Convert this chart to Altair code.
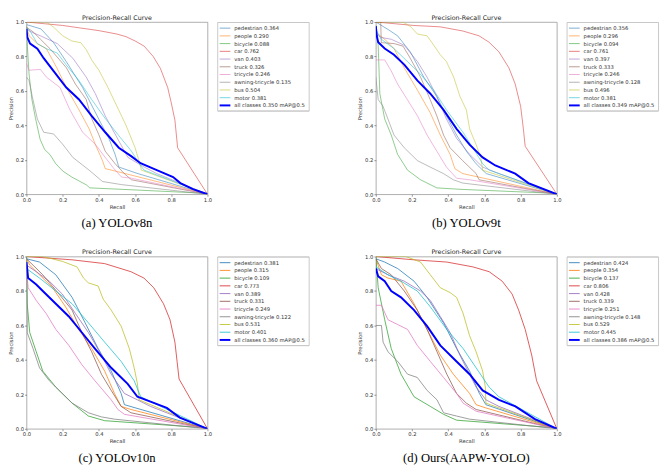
import altair as alt
import pandas as pd

CLASSES = ["pedestrian", "people", "bicycle", "car", "van", "truck", "tricycle",
           "awning-tricycle", "bus", "motor", "all classes"]
COLORS = ["#1f77b4", "#ff7f0e", "#2ca02c", "#d62728", "#9467bd", "#8c564b",
          "#e377c2", "#7f7f7f", "#bcbd22", "#17becf", "#0000ff"]
TITLE = "Precision-Recall Curve"
CAPTIONS = ["(a) YOLOv8n", "(b) YOLOv9t", "(c) YOLOv10n", "(d) Ours(AAPW-YOLO)"]
TICKS = [0.0, 0.2, 0.4, 0.6, 0.8, 1.0]

AP_A = [0.364, 0.290, 0.088, 0.762, 0.403, 0.326, 0.246, 0.135, 0.504, 0.381, 0.350]
AP_B = [0.356, 0.296, 0.094, 0.761, 0.397, 0.333, 0.246, 0.128, 0.496, 0.381, 0.349]
AP_C = [0.381, 0.315, 0.109, 0.773, 0.389, 0.331, 0.249, 0.122, 0.531, 0.401, 0.360]
AP_D = [0.424, 0.354, 0.137, 0.806, 0.428, 0.339, 0.251, 0.148, 0.529, 0.445, 0.386]

# (recall, precision) per class
CURVES_A = {
    "pedestrian": ([0, 0.08, 0.15, 0.22, 0.31, 0.40, 0.455, 0.49, 0.51, 0.615, 1.0],
                   [0.985, 0.96, 0.88, 0.77, 0.62, 0.435, 0.325, 0.23, 0.158, 0.12, 0.0]),
    "people": ([0, 0.015, 0.06, 0.11, 0.167, 0.22, 0.29, 0.346, 0.38, 0.42, 0.435, 0.47, 1.0],
               [0.97, 0.92, 0.874, 0.845, 0.735, 0.62, 0.49, 0.38, 0.29, 0.195, 0.149, 0.14, 0.0]),
    "bicycle": ([0, 0.005, 0.014, 0.03, 0.05, 0.075, 0.1, 0.13, 0.16, 0.2, 0.25, 0.33, 0.35, 0.5, 1.0],
                [0.98, 0.86, 0.70, 0.55, 0.44, 0.32, 0.26, 0.23, 0.18, 0.135, 0.10, 0.055, 0.037, 0.03, 0.005]),
    "car": ([0, 0.1, 0.2, 0.3, 0.4, 0.5, 0.55, 0.6, 0.65, 0.7, 0.74, 0.78, 0.8, 0.82, 0.835, 1.0],
            [1.0, 0.99, 0.98, 0.965, 0.95, 0.93, 0.915, 0.89, 0.86, 0.80, 0.73, 0.62, 0.53, 0.43, 0.27, 0.0]),
    "van": ([0, 0.03, 0.077, 0.17, 0.256, 0.33, 0.38, 0.435, 0.51, 0.56, 0.65, 0.72, 1.0],
            [0.96, 0.94, 0.92, 0.875, 0.79, 0.68, 0.585, 0.455, 0.31, 0.214, 0.158, 0.12, 0.0]),
    "truck": ([0, 0.04, 0.077, 0.13, 0.22, 0.27, 0.33, 0.36, 0.40, 0.435, 0.49, 0.54, 0.58, 1.0],
              [0.97, 0.94, 0.90, 0.845, 0.735, 0.64, 0.55, 0.44, 0.345, 0.25, 0.177, 0.12, 0.084, 0.0]),
    "tricycle": ([0, 0.014, 0.077, 0.11, 0.185, 0.24, 0.31, 0.38, 0.435, 0.49, 0.525, 0.58, 1.0],
                 [0.76, 0.72, 0.725, 0.68, 0.62, 0.49, 0.36, 0.29, 0.214, 0.14, 0.10, 0.093, 0.0]),
    "awning-tricycle": ([0, 0.014, 0.032, 0.06, 0.095, 0.15, 0.2, 0.256, 0.346, 0.42, 0.525, 1.0],
                        [0.68, 0.66, 0.567, 0.437, 0.36, 0.35, 0.29, 0.214, 0.14, 0.074, 0.056, 0.0]),
    "bus": ([0, 0.11, 0.15, 0.2, 0.25, 0.3, 0.33, 0.36, 0.4, 0.45, 0.5, 0.55, 0.6, 0.62, 0.635, 1.0],
            [1.0, 1.0, 0.97, 0.92, 0.89, 0.88, 0.84, 0.78, 0.72, 0.62, 0.51, 0.40, 0.27, 0.20, 0.14, 0.0]),
    "motor": ([0, 0.023, 0.06, 0.11, 0.17, 0.22, 0.29, 0.36, 0.435, 0.51, 0.58, 0.63, 0.65, 1.0],
              [0.97, 0.94, 0.875, 0.845, 0.82, 0.75, 0.66, 0.55, 0.44, 0.34, 0.25, 0.167, 0.14, 0.0]),
    "all classes": ([0, 0.005, 0.02, 0.06, 0.095, 0.15, 0.22, 0.29, 0.36, 0.435, 0.51, 0.58, 0.63, 0.72, 0.81, 0.85, 0.92, 1.0],
                    [0.96, 0.91, 0.875, 0.845, 0.79, 0.715, 0.62, 0.55, 0.455, 0.36, 0.27, 0.22, 0.18, 0.14, 0.10, 0.065, 0.03, 0.0]),
}

CURVES_B = {
    "pedestrian": ([0, 0.067, 0.12, 0.19, 0.265, 0.337, 0.39, 0.446, 0.5, 0.554, 0.61, 1.0],
                   [1.0, 0.957, 0.92, 0.827, 0.68, 0.567, 0.455, 0.344, 0.25, 0.177, 0.12, 0.0]),
    "people": ([0, 0.049, 0.1, 0.157, 0.23, 0.30, 0.356, 0.41, 0.437, 0.48, 1.0],
               [0.94, 0.90, 0.846, 0.734, 0.604, 0.474, 0.344, 0.232, 0.148, 0.12, 0.0]),
    "bicycle": ([0, 0.013, 0.022, 0.049, 0.085, 0.12, 0.175, 0.247, 0.337, 0.48, 1.0],
                [0.98, 0.864, 0.585, 0.437, 0.344, 0.232, 0.14, 0.084, 0.037, 0.028, 0.005]),
    "car": ([0, 0.21, 0.355, 0.48, 0.57, 0.625, 0.68, 0.735, 0.77, 0.80, 0.815, 0.825, 1.0],
            [1.0, 0.98, 0.972, 0.948, 0.92, 0.883, 0.827, 0.734, 0.64, 0.51, 0.38, 0.279, 0.0]),
    "van": ([0, 0.03, 0.085, 0.157, 0.23, 0.283, 0.337, 0.39, 0.446, 0.518, 0.59, 0.68, 1.0],
            [0.93, 0.91, 0.90, 0.865, 0.77, 0.68, 0.567, 0.437, 0.325, 0.232, 0.158, 0.12, 0.0]),
    "truck": ([0, 0.027, 0.03, 0.1, 0.15, 0.19, 0.247, 0.30, 0.337, 0.374, 0.41, 0.48, 0.554, 0.57, 1.0],
              [1.0, 1.0, 0.88, 0.875, 0.86, 0.79, 0.68, 0.55, 0.455, 0.344, 0.27, 0.195, 0.12, 0.084, 0.0]),
    "tricycle": ([0, 0.049, 0.085, 0.12, 0.175, 0.23, 0.283, 0.337, 0.39, 0.446, 0.518, 1.0],
                 [0.78, 0.78, 0.716, 0.64, 0.548, 0.455, 0.344, 0.25, 0.158, 0.093, 0.084, 0.0]),
    "awning-tricycle": ([0, 0.013, 0.04, 0.067, 0.1, 0.157, 0.23, 0.30, 0.374, 0.428, 0.48, 1.0],
                        [0.68, 0.55, 0.51, 0.437, 0.344, 0.27, 0.195, 0.158, 0.12, 0.084, 0.065, 0.0]),
    "bus": ([0, 0.148, 0.19, 0.23, 0.283, 0.32, 0.356, 0.39, 0.43, 0.465, 0.5, 0.518, 0.554, 0.58, 0.59, 1.0],
            [1.0, 1.0, 0.975, 0.93, 0.92, 0.865, 0.81, 0.77, 0.68, 0.567, 0.49, 0.38, 0.288, 0.214, 0.14, 0.0]),
    "motor": ([0, 0.03, 0.1, 0.175, 0.247, 0.32, 0.39, 0.48, 0.536, 0.59, 0.627, 1.0],
              [0.957, 0.90, 0.846, 0.77, 0.697, 0.604, 0.49, 0.362, 0.27, 0.177, 0.14, 0.0]),
    "all classes": ([0, 0.005, 0.013, 0.049, 0.1, 0.157, 0.23, 0.30, 0.374, 0.446, 0.518, 0.59, 0.66, 0.77, 0.843, 1.0],
                    [0.976, 0.92, 0.883, 0.846, 0.81, 0.753, 0.66, 0.585, 0.49, 0.38, 0.288, 0.214, 0.167, 0.12, 0.065, 0.0]),
}

CURVES_C = {
    "pedestrian": ([0, 0.072, 0.162, 0.252, 0.324, 0.396, 0.468, 0.523, 0.541, 1.0],
                   [0.987, 0.968, 0.894, 0.763, 0.615, 0.466, 0.335, 0.205, 0.14, 0.0]),
    "people": ([0, 0.018, 0.072, 0.144, 0.216, 0.288, 0.36, 0.432, 0.486, 0.523, 0.577, 1.0],
               [0.987, 0.95, 0.894, 0.819, 0.708, 0.577, 0.466, 0.335, 0.205, 0.13, 0.112, 0.0]),
    "bicycle": ([0, 0.004, 0.018, 0.054, 0.09, 0.162, 0.252, 0.342, 0.432, 1.0],
                [1.0, 0.726, 0.559, 0.447, 0.335, 0.242, 0.149, 0.074, 0.047, 0.005]),
    "car": ([0, 0.252, 0.432, 0.577, 0.649, 0.703, 0.757, 0.793, 0.82, 0.832, 0.843, 1.0],
            [1.0, 0.981, 0.959, 0.912, 0.875, 0.819, 0.726, 0.633, 0.503, 0.391, 0.289, 0.0]),
    "van": ([0, 0.054, 0.126, 0.198, 0.27, 0.342, 0.414, 0.468, 0.541, 0.613, 0.685, 1.0],
            [0.95, 0.912, 0.857, 0.782, 0.67, 0.559, 0.428, 0.317, 0.205, 0.168, 0.13, 0.0]),
    "truck": ([0, 0.036, 0.09, 0.18, 0.252, 0.306, 0.36, 0.414, 0.468, 0.523, 0.577, 1.0],
              [0.987, 0.95, 0.894, 0.782, 0.689, 0.559, 0.447, 0.317, 0.223, 0.13, 0.093, 0.0]),
    "tricycle": ([0, 0.009, 0.054, 0.108, 0.162, 0.234, 0.306, 0.378, 0.468, 0.505, 0.541, 1.0],
                 [0.93, 0.819, 0.745, 0.67, 0.577, 0.484, 0.372, 0.279, 0.168, 0.112, 0.084, 0.0]),
    "awning-tricycle": ([0, 0.004, 0.036, 0.072, 0.126, 0.18, 0.252, 0.342, 0.414, 0.486, 1.0],
                        [1.0, 0.559, 0.466, 0.354, 0.279, 0.223, 0.149, 0.093, 0.069, 0.056, 0.0]),
    "bus": ([0, 0.09, 0.198, 0.279, 0.315, 0.342, 0.396, 0.423, 0.468, 0.523, 0.568, 0.595, 0.613, 0.622, 1.0],
            [1.0, 1.0, 0.972, 0.94, 0.875, 0.847, 0.829, 0.754, 0.689, 0.596, 0.466, 0.354, 0.261, 0.168, 0.0]),
    "motor": ([0, 0.072, 0.162, 0.252, 0.342, 0.432, 0.523, 0.595, 0.631, 1.0],
              [0.93, 0.875, 0.80, 0.726, 0.615, 0.503, 0.391, 0.279, 0.186, 0.0]),
    "all classes": ([0, 0.009, 0.054, 0.09, 0.162, 0.234, 0.306, 0.378, 0.468, 0.559, 0.613, 0.685, 0.775, 0.847, 1.0],
                    [0.968, 0.875, 0.838, 0.80, 0.726, 0.652, 0.559, 0.466, 0.354, 0.261, 0.186, 0.158, 0.121, 0.065, 0.0]),
}

CURVES_D = {
    "pedestrian": ([0, 0.049, 0.121, 0.211, 0.283, 0.374, 0.446, 0.518, 0.572, 0.608, 1.0],
                   [0.987, 0.968, 0.93, 0.857, 0.763, 0.615, 0.466, 0.335, 0.205, 0.14, 0.0]),
    "people": ([0, 0.031, 0.067, 0.139, 0.211, 0.283, 0.356, 0.428, 0.518, 0.554, 0.608, 1.0],
               [0.987, 0.894, 0.875, 0.857, 0.726, 0.577, 0.428, 0.317, 0.205, 0.14, 0.121, 0.0]),
    "bicycle": ([0, 0.013, 0.049, 0.085, 0.139, 0.211, 0.301, 0.374, 0.446, 1.0],
                [1.0, 0.819, 0.633, 0.466, 0.317, 0.186, 0.13, 0.084, 0.05, 0.005]),
    "car": ([0, 0.211, 0.392, 0.536, 0.626, 0.698, 0.753, 0.789, 0.825, 0.861, 0.888, 1.0],
            [1.0, 0.981, 0.968, 0.94, 0.912, 0.857, 0.782, 0.689, 0.577, 0.428, 0.279, 0.0]),
    "van": ([0, 0.067, 0.157, 0.247, 0.301, 0.356, 0.41, 0.464, 0.518, 0.554, 0.608, 0.68, 1.0],
            [0.93, 0.894, 0.857, 0.80, 0.745, 0.652, 0.559, 0.428, 0.317, 0.242, 0.168, 0.13, 0.0]),
    "truck": ([0, 0.031, 0.085, 0.157, 0.229, 0.283, 0.338, 0.392, 0.446, 0.5, 0.554, 1.0],
              [0.987, 0.93, 0.894, 0.80, 0.689, 0.577, 0.447, 0.317, 0.205, 0.149, 0.112, 0.0]),
    "tricycle": ([0, 0.031, 0.067, 0.121, 0.175, 0.229, 0.301, 0.374, 0.446, 0.482, 0.554, 1.0],
                 [0.717, 0.717, 0.633, 0.605, 0.577, 0.484, 0.391, 0.298, 0.205, 0.149, 0.102, 0.0]),
    "awning-tricycle": ([0, 0.031, 0.04, 0.067, 0.121, 0.175, 0.229, 0.283, 0.338, 0.374, 0.446, 0.518, 1.0],
                        [0.60, 0.60, 0.503, 0.447, 0.391, 0.317, 0.298, 0.223, 0.168, 0.093, 0.074, 0.056, 0.0]),
    "bus": ([0, 0.166, 0.247, 0.301, 0.356, 0.41, 0.446, 0.482, 0.518, 0.554, 0.59, 0.605, 0.608, 1.0],
            [1.0, 1.0, 0.968, 0.894, 0.819, 0.791, 0.763, 0.67, 0.54, 0.447, 0.335, 0.242, 0.149, 0.0]),
    "motor": ([0, 0.067, 0.139, 0.229, 0.301, 0.392, 0.482, 0.554, 0.626, 0.68, 1.0],
              [0.94, 0.894, 0.857, 0.80, 0.708, 0.577, 0.466, 0.354, 0.242, 0.186, 0.0]),
    "all classes": ([0, 0.013, 0.049, 0.085, 0.139, 0.211, 0.283, 0.356, 0.446, 0.518, 0.59, 0.68, 0.771, 0.879, 1.0],
                    [0.93, 0.885, 0.857, 0.80, 0.763, 0.689, 0.596, 0.484, 0.391, 0.317, 0.223, 0.168, 0.13, 0.056, 0.0]),
}

W, H = 186, 177
FONT = "DejaVu Sans"
FS = 5.4
FRAME_EDGES = ["top", "bottom"]
FRAME_COLOR = "#c8c8c8"


def make_panel(curves, aps, caption, fade):
    labels = [f"{c} {a:.3f}" for c, a in zip(CLASSES[:-1], aps[:-1])]
    labels.append(f"all classes {aps[-1]:.3f} mAP@0.5")
    rows = []
    for i, cls in enumerate(CLASSES):
        rec, prec = curves[cls]
        for k, (r, p) in enumerate(zip(rec, prec)):
            rows.append({"series": labels[i], "recall": r, "precision": p,
                         "k": k, "main": i == len(CLASSES) - 1})
    df = pd.DataFrame(rows)
    leg_df = pd.DataFrame({"series": labels,
                           "main": [i == len(labels) - 1 for i in range(len(labels))]})

    cscale = alt.Scale(domain=labels, range=COLORS)
    color = alt.Color("series:N", scale=cscale, legend=None)
    axis_common = dict(values=TICKS, format=".1f", grid=False, domain=False,
                       labelFont=FONT, labelFontSize=FS, labelColor="#333",
                       titleFont=FONT, titleFontSize=FS, titleFontWeight="normal",
                       titleColor="#333", tickSize=2, tickColor="#555", tickWidth=0.6,
                       labelPadding=1, labelOverlap=False, labelFlush=False)
    x = alt.X("recall:Q", scale=alt.Scale(domain=[0, 1], nice=False, zero=False),
              axis=alt.Axis(title="Recall", titlePadding=2, **axis_common))
    y = alt.Y("precision:Q", scale=alt.Scale(domain=[0, 1], nice=False, zero=False),
              axis=alt.Axis(title="Precision", titlePadding=2, **axis_common))
    base = alt.Chart(df)
    cls_lines = base.transform_filter(alt.datum.main == False).mark_line(
        strokeWidth=0.9, strokeOpacity=fade, clip=True
    ).encode(x=x, y=y, color=color, order="k:Q")
    all_line = base.transform_filter(alt.datum.main == True).mark_line(
        strokeWidth=2, clip=True
    ).encode(x=x, y=y, color=color, order="k:Q")
    ttl = alt.Chart(pd.DataFrame({"t": [TITLE]})).mark_text(
        font=FONT, fontSize=6.5, baseline="alphabetic", color="#222"
    ).encode(text="t:N", x=alt.value(W / 2), y=alt.value(-2.5))
    cap = alt.Chart(pd.DataFrame({"c": [caption]})).mark_text(
        font="Liberation Serif", fontSize=13, baseline="alphabetic", color="black"
    ).encode(text="c:N", x=alt.value(W / 2), y=alt.value(H + 34))
    main = alt.layer(cls_lines, all_line, ttl, cap)

    # legend frame (own point scale for its top/bottom edges)
    fy = alt.Y("edge:N", scale=alt.Scale(type="point", domain=FRAME_EDGES, range=[0.5, 91.5], padding=0),
               axis=None)
    frame_hz = alt.Chart(pd.DataFrame({"edge": FRAME_EDGES})).mark_rule(
        color=FRAME_COLOR, strokeWidth=1
    ).encode(x=alt.value(W + 10.5), x2=alt.value(W + 104.5), y=fy)
    frame_box = alt.Chart(pd.DataFrame({"f": ["frame"]})).mark_rect(
        fill="white", fillOpacity=0, stroke=FRAME_COLOR, strokeWidth=1
    ).encode(x=alt.value(W + 10.5), x2=alt.value(W + 104.5),
             y=alt.value(0.5), y2=alt.value(91.5), detail="f:N")
    frame = alt.layer(frame_box, frame_hz)

    # legend entries: line samples + labels, rows placed by a point scale
    ly = alt.Y("series:N", scale=alt.Scale(type="point", domain=labels, range=[6.3, 85.7], padding=0),
               axis=None)
    leg_lines = alt.Chart(leg_df).mark_rule().encode(
        x=alt.value(W + 12.5), x2=alt.value(W + 23.5), y=ly, color=color,
        strokeWidth=alt.condition(alt.datum.main, alt.value(2), alt.value(1)),
        strokeOpacity=alt.condition(alt.datum.main, alt.value(1), alt.value(fade)),
    )
    leg_text = alt.Chart(leg_df).mark_text(
        align="left", baseline="middle", font=FONT, fontSize=FS, color="#333"
    ).encode(x=alt.value(W + 27.5), y=ly, text="series:N")
    entries = alt.layer(leg_lines, leg_text)

    legend = alt.layer(frame, entries).resolve_scale(y="independent")
    return alt.layer(main, legend).resolve_scale(y="independent").properties(width=W, height=H)


pa = make_panel(CURVES_A, AP_A, CAPTIONS[0], 0.6)
pb = make_panel(CURVES_B, AP_B, CAPTIONS[1], 0.6)
pc = make_panel(CURVES_C, AP_C, CAPTIONS[2], 0.85)
pd_ = make_panel(CURVES_D, AP_D, CAPTIONS[3], 0.85)

top = alt.hconcat(pa, pb, spacing=48).resolve_scale(color="independent")
bottom = alt.hconcat(pc, pd_, spacing=48).resolve_scale(color="independent")
chart = alt.vconcat(top, bottom, spacing=18).resolve_scale(color="independent").properties(
    padding=0, background="white"
).configure_view(stroke="#999", strokeWidth=0.8)

chart.save("out.html", embed_options={"renderer": "svg", "actions": False})
